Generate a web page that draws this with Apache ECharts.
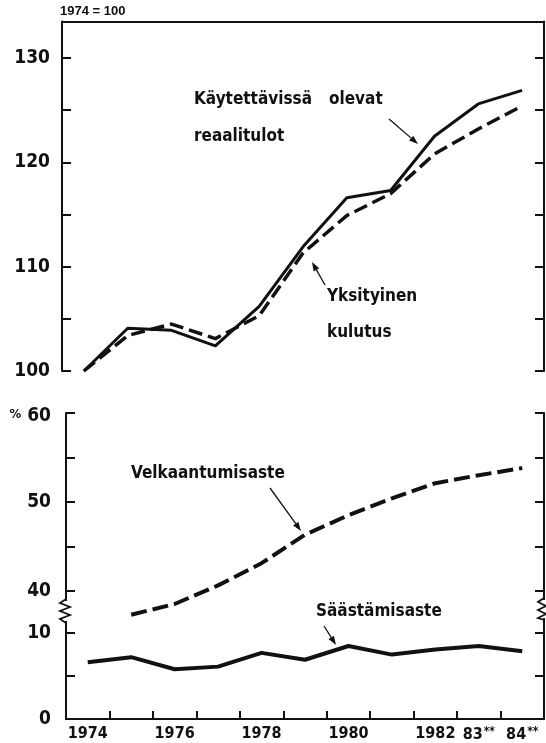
<!DOCTYPE html>
<html>
<head>
<meta charset="utf-8">
<script src="https://cdn.jsdelivr.net/npm/echarts@6/dist/echarts.min.js"></script>
<style>
html, body { margin: 0; padding: 0; background: #fff; }
#main { width: 546px; height: 743px; }
</style>
</head>
<body>
<div id="main"></div>
<script>
// vuodet
var years = ['1974', '1975', '1976', '1977', '1978', '1979', '1980', '1981', '1982', '1983', '1984'];
var yearLabels = ['1974', '', '1976', '', '1978', '', '1980', '', '1982', '83**', '84**'];

// 1974 = 100
var reaalitulot = [100, 104.1, 103.9, 102.4, 106.2, 111.9, 116.6, 117.3, 122.5, 125.6, 126.9];
var kulutus = [100, 103.4, 104.5, 103.1, 105.3, 111.3, 114.9, 117.0, 120.8, 123.2, 125.4];

// prosenttia
var velkaantumisaste = [null, 37.3, 38.5, 40.6, 43.1, 46.3, 48.5, 50.4, 52.1, 53.0, 53.8];
var saastamisaste = [6.6, 7.2, 5.8, 6.1, 7.7, 6.9, 8.5, 7.5, 8.1, 8.5, 7.9];

// asteikot
var topTicks = [100, 105, 110, 115, 120, 125, 130];
var topLabels = [100, 110, 120, 130];
var upTicks = [40, 45, 50, 55, 60];
var upLabels = [40, 50, 60];
var lowTicks = [0, 5, 10];
var lowLabels = [0, 10];

var INK = '#111';
var NARROW = '"Liberation Sans Narrow", "DejaVu Sans Condensed", "Roboto", sans-serif';

var chart = echarts.init(document.getElementById('main'));

function yAx(grid, pos, min, max, ticks, labels, margin, fmt) {
  return {
    type: 'value', gridIndex: grid, position: pos, min: min, max: max,
    splitLine: { show: false },
    axisLine: { show: true, lineStyle: { color: INK, width: 2 } },
    axisTick: { show: true, inside: true, length: 9, customValues: ticks, lineStyle: { color: INK, width: 2 } },
    axisLabel: labels ? {
      show: true, customValues: labels, margin: margin, color: INK,
      fontFamily: NARROW, fontWeight: 'bold', fontSize: 19,
      formatter: fmt || function (v) { return v; },
      rich: {
        p: { fontFamily: NARROW, fontWeight: 'bold', fontSize: 13, color: INK, padding: [4, 6, 0, 0] },
        b: { fontFamily: NARROW, fontWeight: 'bold', fontSize: 19, color: INK, padding: [6, 0, 0, 0] }
      }
    } : { show: false }
  };
}

function xHidden(grid) {
  return {
    type: 'category', gridIndex: grid, data: years, boundaryGap: true,
    axisLine: { show: false, onZero: false }, axisTick: { show: false }, axisLabel: { show: false }
  };
}

// nuolet ja koristeet
function arrow(x1, y1, x2, y2) {
  var a = Math.atan2(y2 - y1, x2 - x1), L = 9, W = 3.2;
  var bx = x2 - L * Math.cos(a), by = y2 - L * Math.sin(a);
  return [
    { type: 'line', shape: { x1: x1, y1: y1, x2: bx, y2: by }, style: { stroke: INK, lineWidth: 1.3 } },
    { type: 'polygon', shape: { points: [[x2, y2], [bx + W * Math.sin(a), by - W * Math.cos(a)], [bx - W * Math.sin(a), by + W * Math.cos(a)]] }, style: { fill: INK } }
  ];
}

function txt(s, x, y, size, fam) {
  return {
    type: 'text', z: 100,
    style: {
      text: s, x: x, y: y, fill: INK,
      font: 'bold ' + size + 'px ' + (fam || NARROW),
      align: 'left', verticalAlign: 'middle', textAlign: 'left', textVerticalAlign: 'middle'
    }
  };
}

function zigzag(pts) {
  return { type: 'polyline', z: 100, shape: { points: pts }, style: { stroke: INK, lineWidth: 1.8, fill: null } };
}

var graphics = [
  txt('1974 = 100', 60, 11, 13, '"Liberation Sans", Arial, sans-serif'),
  txt('Käytettävissä', 194, 100, 17),
  txt('olevat', 329, 100, 17),
  txt('reaalitulot', 194, 137, 17),
  txt('Yksityinen', 327, 297, 17),
  txt('kulutus', 327, 333, 17),
  txt('Velkaantumisaste', 131, 474, 17),
  txt('Säästämisaste', 316, 612, 17),
  { type: 'rect', z: 99, shape: { x: 63, y: 601, width: 6, height: 20 }, style: { fill: '#fff' } },
  { type: 'rect', z: 99, shape: { x: 541, y: 600, width: 6, height: 18 }, style: { fill: '#fff' } },
  zigzag([[66, 599], [60, 603], [70, 607], [60, 611], [70, 615], [60, 619], [66, 623]]),
  zigzag([[544, 598], [538, 602], [546, 606], [538, 610], [546, 614], [538, 618], [544, 620]])
]
  .concat(arrow(389, 119, 418, 144))
  .concat(arrow(325, 285, 312, 262))
  .concat(arrow(270, 488, 301, 531))
  .concat(arrow(324, 626, 336, 645));

var option = {
  backgroundColor: '#fff',
  animation: false,
  grid: [
    { left: 62, right: 2, top: 21.5, height: 349.5 },
    { left: 66, right: 2, top: 413, height: 208.8 },
    { left: 66, right: 2, top: 621.8, height: 98.7 }
  ],
  xAxis: [
    xHidden(0),
    {
      type: 'category', gridIndex: 0, position: 'top', data: years, boundaryGap: true,
      axisLine: { show: true, onZero: false, lineStyle: { color: INK, width: 2 } },
      axisTick: { show: false }, axisLabel: { show: false }
    },
    xHidden(1),
    {
      type: 'category', gridIndex: 2, position: 'bottom', data: years, boundaryGap: true,
      axisLine: { show: true, onZero: false, lineStyle: { color: INK, width: 2 } },
      axisTick: { show: true, inside: true, length: 8, interval: 0, lineStyle: { color: INK, width: 2 } },
      axisLabel: {
        show: true, interval: 0, margin: 7, color: INK,
        fontFamily: NARROW, fontWeight: 'bold', fontSize: 16,
        formatter: function (v, i) {
          var s = yearLabels[i];
          if (s.indexOf('**') > 0) return '{n|' + s.slice(0, 2) + '}{s|**}';
          return s;
        },
        rich: {
          n: { fontFamily: NARROW, fontWeight: 'bold', fontSize: 16, color: INK },
          s: { fontFamily: NARROW, fontWeight: 'bold', fontSize: 12, color: INK, verticalAlign: 'top', padding: [0, 0, 6, 1] }
        }
      }
    }
  ],
  yAxis: [
    yAx(0, 'left', 100, 133.5, topTicks, topLabels, 12),
    yAx(0, 'right', 100, 133.5, topTicks, null),
    yAx(1, 'left', 36.5, 60, upTicks, upLabels, 15, function (v) { return v === 60 ? '{p|%}{b|60}' : v; }),
    yAx(1, 'right', 36.5, 60, upTicks, null),
    yAx(2, 'left', 0, 11.32, lowTicks, lowLabels, 15),
    yAx(2, 'right', 0, 11.32, lowTicks, null)
  ],
  series: [
    {
      name: 'Käytettävissä olevat reaalitulot', type: 'line', xAxisIndex: 0, yAxisIndex: 0,
      data: reaalitulot, symbol: 'none', lineStyle: { color: INK, width: 3 }
    },
    {
      name: 'Yksityinen kulutus', type: 'line', xAxisIndex: 0, yAxisIndex: 0,
      data: kulutus, symbol: 'none', lineStyle: { color: INK, width: 3.5, type: [14, 6] }
    },
    {
      name: 'Velkaantumisaste', type: 'line', xAxisIndex: 2, yAxisIndex: 2,
      data: velkaantumisaste, symbol: 'none', lineStyle: { color: INK, width: 4, type: [16, 6] }
    },
    {
      name: 'Säästämisaste', type: 'line', xAxisIndex: 3, yAxisIndex: 4,
      data: saastamisaste, symbol: 'none', lineStyle: { color: INK, width: 4 }
    }
  ],
  graphic: graphics
};

chart.setOption(option);
</script>
</body>
</html>
